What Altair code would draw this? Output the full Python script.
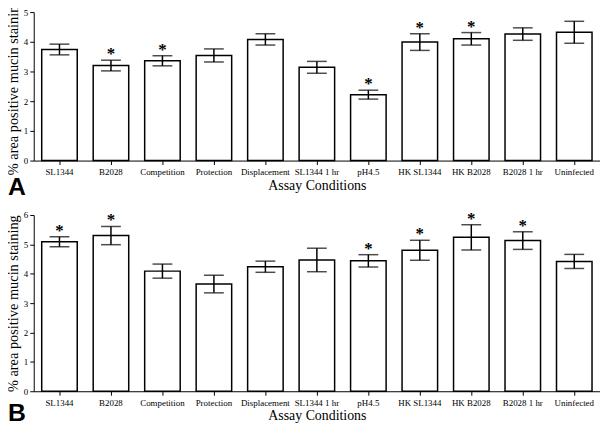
import altair as alt
import pandas as pd

conditions = ["SL1344", "B2028", "Competition", "Protection", "Displacement",
              "SL1344 1 hr", "pH4.5", "HK SL1344", "HK B2028", "B2028 1 hr", "Uninfected"]
a_mean = [3.74, 3.20, 3.36, 3.54, 4.08, 3.14, 2.22, 3.99, 4.10, 4.26, 4.32]
a_err = [0.18, 0.18, 0.17, 0.22, 0.19, 0.20, 0.15, 0.28, 0.21, 0.21, 0.37]
a_sig = [False, True, True, False, False, False, True, True, True, False, False]
b_mean = [5.09, 5.30, 4.09, 3.65, 4.24, 4.47, 4.44, 4.80, 5.24, 5.13, 4.42]
b_err = [0.17, 0.31, 0.24, 0.30, 0.19, 0.40, 0.21, 0.34, 0.43, 0.30, 0.24]
b_sig = [True, True, False, False, False, False, True, True, True, True, False]

SERIF = "Liberation Serif"
W = 572


def panel(means, errs, sigs, ymax, height, label, label_y):
    df = pd.DataFrame({
        "cond": conditions,
        "mean": means,
        "lo": [m - e for m, e in zip(means, errs)],
        "hi": [m + e for m, e in zip(means, errs)],
        "sig": sigs,
    })
    yax = alt.Axis(values=list(range(ymax + 1)), title="% area positive mucin staining",
                   labelFont=SERIF, labelFontSize=9, labelColor="black", labelPadding=2,
                   labelOverlap=False,
                   titleFont=SERIF, titleFontSize=14.5, titleFontWeight="normal",
                   titleColor="black", titlePadding=3, tickColor="black", tickSize=4,
                   domainColor="black", grid=False)
    xaxis = alt.Axis(title="Assay Conditions", labelAngle=0, labelFont=SERIF,
                     labelFontSize=9, labelColor="black", labelPadding=3,
                     labelOverlap=False,
                     titleFont=SERIF, titleFontSize=14, titleFontWeight="normal",
                     titleColor="black", titlePadding=2, tickColor="black",
                     tickSize=4, domainColor="black", grid=False)
    yscale = alt.Scale(domain=[0, ymax], nice=False)
    xs = alt.X("cond:N", sort=conditions,
               scale=alt.Scale(paddingInner=0.31, paddingOuter=0.155), axis=xaxis)

    def yq(field):
        return alt.Y(field, scale=yscale, axis=yax, title="% area positive mucin staining")

    base = alt.Chart(df)
    bars = base.mark_bar(fill="white", stroke="black", strokeWidth=1.5).encode(
        x=xs, y=yq("mean:Q"))
    rule = base.mark_rule(color="black", strokeWidth=1.5).encode(
        x=xs, y=yq("lo:Q"), y2="hi:Q")
    cap_lo = base.mark_tick(color="black", size=20, thickness=1.5, orient="horizontal").encode(
        x=xs, y=yq("lo:Q"))
    cap_hi = base.mark_tick(color="black", size=20, thickness=1.5, orient="horizontal").encode(
        x=xs, y=yq("hi:Q"))
    stars = base.transform_filter("datum.sig").mark_text(
        text="*", font=SERIF, fontSize=17, fontWeight="bold", baseline="alphabetic",
        dy=-1, color="black").encode(x=xs, y=yq("hi:Q"))
    lab = alt.Chart(pd.DataFrame({"t": [label]})).mark_text(
        font="Liberation Sans", fontSize=25, fontWeight="bold", align="left",
        baseline="alphabetic", color="black").encode(
        x=alt.value(-26), y=alt.value(label_y), text="t:N")
    return alt.layer(bars, rule, cap_lo, cap_hi, stars, lab).properties(width=W, height=height)


A = panel(a_mean, a_err, a_sig, 5, 150, "A", 185)
B = panel(b_mean, b_err, b_sig, 6, 178, "B", 208)

chart = alt.vconcat(A, B, spacing=55, bounds="flush").properties(
    padding={"left": -3, "top": -13, "right": 0, "bottom": 0},
).configure_view(stroke=None).configure_axis(domainWidth=1, tickWidth=1)

chart.save("out.html", embed_options={"renderer": "svg", "actions": False})
